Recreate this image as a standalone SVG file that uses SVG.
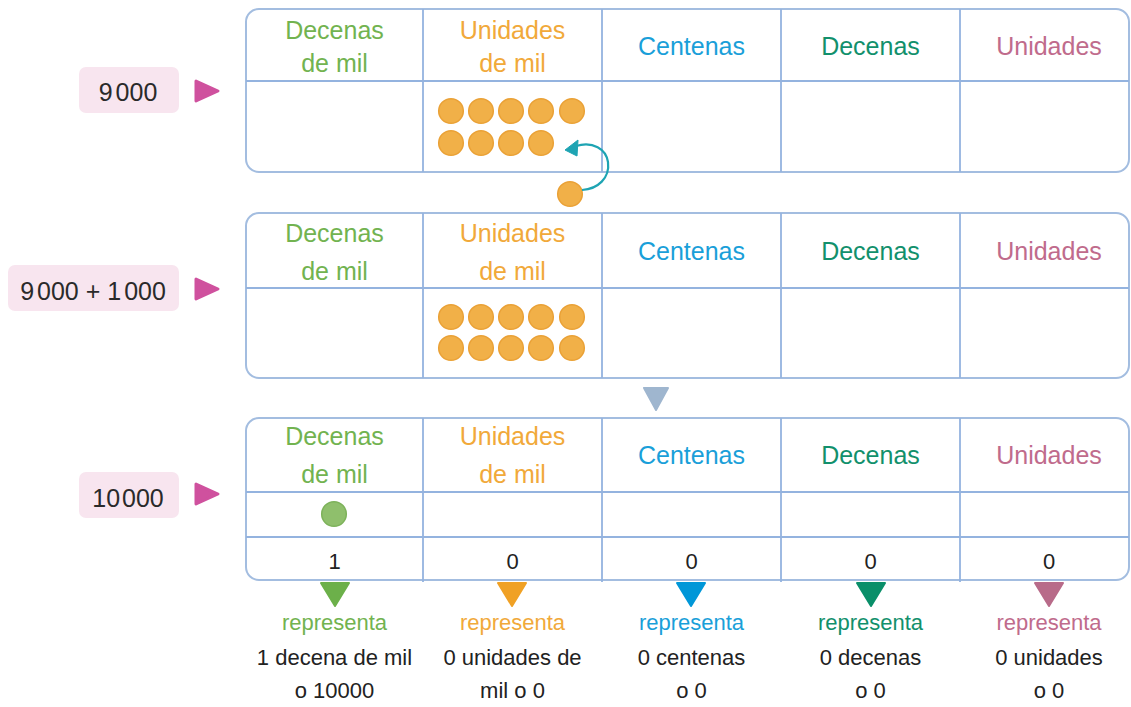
<svg xmlns="http://www.w3.org/2000/svg" width="1131" height="707" viewBox="0 0 1131 707">
<defs>
<style>
text{font-family:"Liberation Sans",Arial,sans-serif}
.frame{fill:#fff;stroke:#a3bde0;stroke-width:2}
.grid{stroke:#94b3df;stroke-width:1.8;fill:none}
.h{font-size:25px;text-anchor:middle}
.g1{fill:#72b350}.g2{fill:#f1a93a}.g3{fill:#1a9fd9}.g4{fill:#12906c}.g5{fill:#c06b8c}
.lab{fill:#f8e5ef}
.lt{font-size:25px;fill:#2a2a2a;text-anchor:middle}
.orange{fill:#f1b048;stroke:#eaa136;stroke-width:1.5}
.green{fill:#8fbf6c;stroke:#7db25a;stroke-width:1.5}
.val{font-size:22px;fill:#222;text-anchor:middle}
.rep{font-size:22px;text-anchor:middle}
.body{font-size:22px;fill:#222;text-anchor:middle}
.pink{fill:#cf519e;stroke:#cf519e;stroke-width:3;stroke-linejoin:round}
.teal{fill:#1ea4b3;stroke:#1ea4b3;stroke-width:1;stroke-linejoin:round}
</style>
</defs>

<!-- Table 1 -->
<g id="table1">
<rect class="frame" x="246" y="9" width="883" height="163" rx="13"/>
<path class="grid" d="M246 81H1129M423 9V172M602 9V172M781 9V172M960 9V172"/>
<text class="h g1" x="334.5" y="39">Decenas</text>
<text class="h g1" x="334.5" y="72">de mil</text>
<text class="h g2" x="512.5" y="39">Unidades</text>
<text class="h g2" x="512.5" y="72">de mil</text>
<text class="h g3" x="691.5" y="55">Centenas</text>
<text class="h g4" x="870.5" y="55">Decenas</text>
<text class="h g5" x="1049" y="55">Unidades</text>
<g>
<circle class="orange" cx="451" cy="111" r="12.3"/>
<circle class="orange" cx="481" cy="111" r="12.3"/>
<circle class="orange" cx="511" cy="111" r="12.3"/>
<circle class="orange" cx="541" cy="111" r="12.3"/>
<circle class="orange" cx="572" cy="111" r="12.3"/>
<circle class="orange" cx="451" cy="143" r="12.3"/>
<circle class="orange" cx="481" cy="143" r="12.3"/>
<circle class="orange" cx="511" cy="143" r="12.3"/>
<circle class="orange" cx="541" cy="143" r="12.3"/>
</g>
</g>
<circle id="extra-circle" class="orange" cx="570" cy="194" r="12.3"/>

<!-- Table 2 -->
<g id="table2">
<rect class="frame" x="246" y="213" width="883" height="165" rx="13"/>
<path class="grid" d="M246 288H1129M423 213V378M602 213V378M781 213V378M960 213V378"/>
<text class="h g1" x="334.5" y="242">Decenas</text>
<text class="h g1" x="334.5" y="280">de mil</text>
<text class="h g2" x="512.5" y="242">Unidades</text>
<text class="h g2" x="512.5" y="280">de mil</text>
<text class="h g3" x="691.5" y="260">Centenas</text>
<text class="h g4" x="870.5" y="260">Decenas</text>
<text class="h g5" x="1049" y="260">Unidades</text>
<g>
<circle class="orange" cx="451" cy="317" r="12.3"/>
<circle class="orange" cx="481" cy="317" r="12.3"/>
<circle class="orange" cx="511" cy="317" r="12.3"/>
<circle class="orange" cx="541" cy="317" r="12.3"/>
<circle class="orange" cx="572" cy="317" r="12.3"/>
<circle class="orange" cx="451" cy="348" r="12.3"/>
<circle class="orange" cx="481" cy="348" r="12.3"/>
<circle class="orange" cx="511" cy="348" r="12.3"/>
<circle class="orange" cx="541" cy="348" r="12.3"/>
<circle class="orange" cx="572" cy="348" r="12.3"/>
</g>
</g>

<!-- Table 3 -->
<g id="table3">
<rect class="frame" x="246" y="418" width="883" height="162" rx="13"/>
<path class="grid" d="M246 492H1129M246 537H1129M423 418V582M602 418V582M781 418V582M960 418V582"/>
<text class="h g1" x="334.5" y="445">Decenas</text>
<text class="h g1" x="334.5" y="483">de mil</text>
<text class="h g2" x="512.5" y="445">Unidades</text>
<text class="h g2" x="512.5" y="483">de mil</text>
<text class="h g3" x="691.5" y="464">Centenas</text>
<text class="h g4" x="870.5" y="464">Decenas</text>
<text class="h g5" x="1049" y="464">Unidades</text>
<circle class="green" cx="334" cy="514" r="12.3"/>
<text class="val" x="334.5" y="569">1</text>
<text class="val" x="512.5" y="569">0</text>
<text class="val" x="691.5" y="569">0</text>
<text class="val" x="870.5" y="569">0</text>
<text class="val" x="1049" y="569">0</text>
</g>

<!-- Row labels -->
<g id="label1">
<rect class="lab" x="79" y="67" width="100" height="46" rx="7"/>
<text class="lt" x="128" y="101"><tspan>9</tspan><tspan dx="3">000</tspan></text>
</g>
<g id="label2">
<rect class="lab" x="8" y="265" width="171" height="46" rx="7"/>
<text class="lt" x="93" y="300"><tspan>9</tspan><tspan dx="3">000 + 1</tspan><tspan dx="3">000</tspan></text>
</g>
<g id="label3">
<rect class="lab" x="79" y="472" width="100" height="46" rx="7"/>
<text class="lt" x="128" y="507"><tspan>10</tspan><tspan dx="2">000</tspan></text>
</g>

<!-- Bottom descriptions -->
<g id="desc1">
<text class="rep g1" x="334.5" y="630">representa</text>
<text class="body" x="334.5" y="665">1 decena de mil</text>
<text class="body" x="334.5" y="698">o 10000</text>
</g>
<g id="desc2">
<text class="rep g2" x="512.5" y="630">representa</text>
<text class="body" x="512.5" y="665">0 unidades de</text>
<text class="body" x="512.5" y="698">mil o 0</text>
</g>
<g id="desc3">
<text class="rep g3" x="691.5" y="630">representa</text>
<text class="body" x="691.5" y="665">0 centenas</text>
<text class="body" x="691.5" y="698">o 0</text>
</g>
<g id="desc4">
<text class="rep g4" x="870.5" y="630">representa</text>
<text class="body" x="870.5" y="665">0 decenas</text>
<text class="body" x="870.5" y="698">o 0</text>
</g>
<g id="desc5">
<text class="rep g5" x="1049" y="630">representa</text>
<text class="body" x="1049" y="665">0 unidades</text>
<text class="body" x="1049" y="698">o 0</text>
</g>

<!-- Connectors -->
<g id="connectors">
<path class="pink" d="M196 81 L218 91 L196 101 z"/>
<path class="pink" d="M196 279 L218 289 L196 299 z"/>
<path class="pink" d="M196 484 L218 494 L196 504 z"/>
<path d="M644 388 L668 388 L656 410 z" fill="#9fb6cf" stroke="#9fb6cf" stroke-width="2" stroke-linejoin="round"/>
<path d="M321 583 L349 583 L335 606 z" fill="#6cb04a" stroke="#6cb04a" stroke-width="2" stroke-linejoin="round"/>
<path d="M498 583 L526 583 L512 606 z" fill="#f0a125" stroke="#f0a125" stroke-width="2" stroke-linejoin="round"/>
<path d="M677 583 L705 583 L691 606 z" fill="#0097d8" stroke="#0097d8" stroke-width="2" stroke-linejoin="round"/>
<path d="M857 583 L885 583 L871 606 z" fill="#0a8f69" stroke="#0a8f69" stroke-width="2" stroke-linejoin="round"/>
<path d="M1035 583 L1063 583 L1049 606 z" fill="#b86b89" stroke="#b86b89" stroke-width="2" stroke-linejoin="round"/>
<path d="M582 190 C598 189 610 178 608 162 C606 149 593 141 576 146" fill="none" stroke="#1ea4b3" stroke-width="2.2"/>
<path class="teal" d="M565 150 L578 140 L577 156 z"/>
</g>
</svg>
